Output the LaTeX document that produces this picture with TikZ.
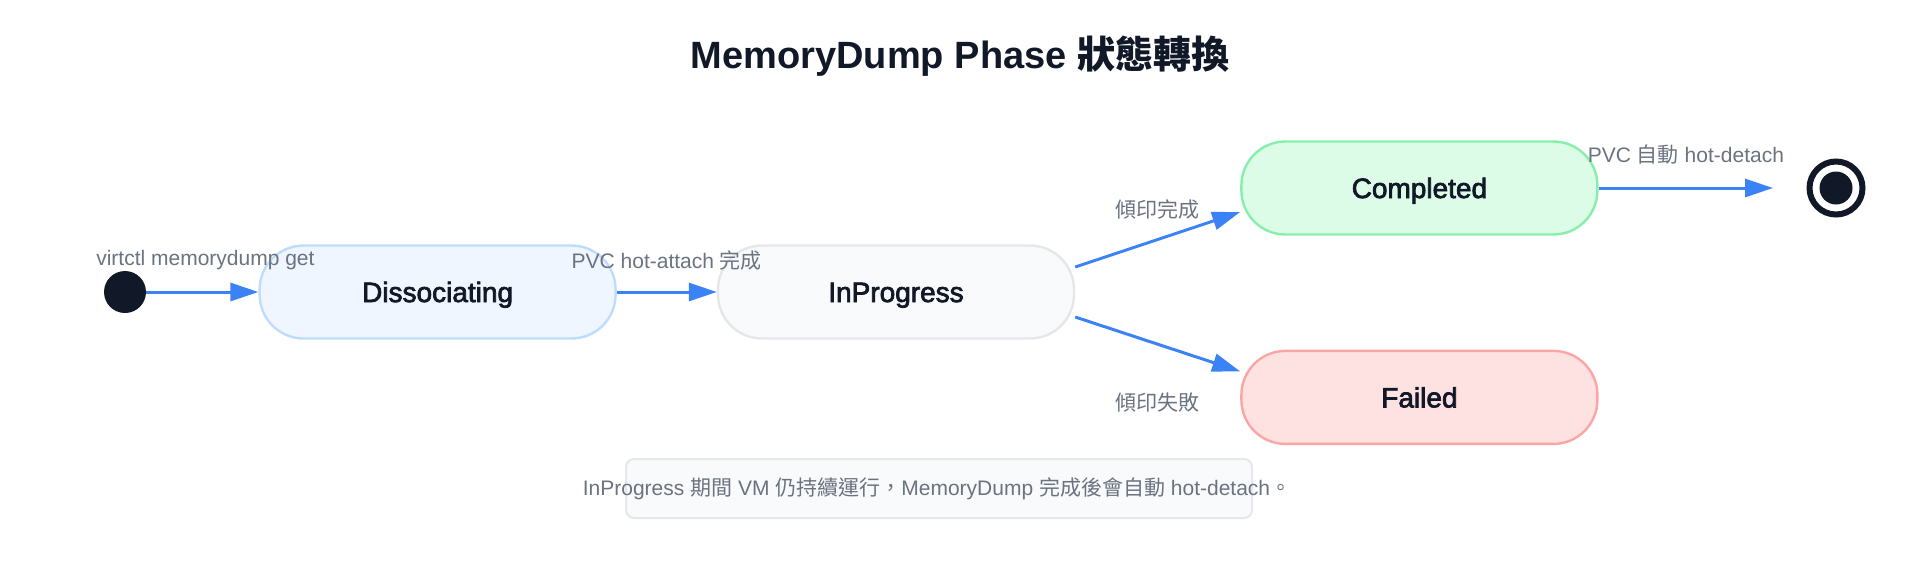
\documentclass[tikz,border=0pt]{standalone}
\usepackage{fontspec}
\setmainfont{Liberation Sans}
\newfontfamily\cjk{Noto Sans CJK TC}
\newfontfamily\semib[FakeBold=2.5]{Liberation Sans}
\usepackage{tikz}
\usetikzlibrary{arrows.meta,positioning,calc}

\definecolor{navy}{HTML}{111827}
\definecolor{labelgray}{HTML}{6B7280}
\definecolor{flowblue}{HTML}{3B82F6}
\definecolor{dissocfill}{HTML}{EFF6FF}
\definecolor{dissocline}{HTML}{BFDBFE}
\definecolor{progfill}{HTML}{F9FAFB}
\definecolor{progline}{HTML}{E5E7EB}
\definecolor{donefill}{HTML}{DCFCE7}
\definecolor{doneline}{HTML}{86EFAC}
\definecolor{failfill}{HTML}{FEE2E2}
\definecolor{failline}{HTML}{FCA5A5}

\begin{document}
\begin{tikzpicture}[
    x=1pt, y=1pt,
    phase/.style={rectangle, rounded corners=22pt, line width=1.2pt, minimum width=178pt, minimum height=46.5pt, text height=11pt, text depth=1pt, text=navy, font=\fontsize{14}{16}\selectfont\semib},
    startdot/.style={circle, fill=navy, minimum size=21pt, inner sep=0pt},
    endring/.style={circle, draw=navy, line width=3pt, minimum size=26.5pt, inner sep=0pt},
    enddot/.style={circle, fill=navy, minimum size=16.5pt, inner sep=0pt},
    lbl/.style={text=labelgray, font=\fontsize{10.5}{12.6}\selectfont, inner sep=1pt},
    flow/.style={-{Triangle[length=14pt, width=9pt]}, line width=1.5pt, draw=flowblue}
]
\useasboundingbox (0,0) rectangle (960,-292.5);

% Title
\node[anchor=base, text=navy, font=\fontsize{19}{22}\selectfont\bfseries] (title) at (480,-34) {MemoryDump Phase {\cjk 狀態轉換}};

% Start
\node[startdot] (init) at (62.5,-146) {};

% Phases
\node[phase, fill=dissocfill, draw=dissocline, right=56pt of init] (dissoc) {Dissociating};
\node[phase, fill=progfill, draw=progline, right=50pt of dissoc] (prog) {InProgress};
\node[phase, fill=donefill, draw=doneline, right=82.5pt of prog, yshift=52pt] (done) {Completed};
\node[phase, fill=failfill, draw=failline, below=57pt of done] (fail) {Failed};

% End
\node[endring] (final) at (918,-94) {};
\node[enddot] (finaldot) at (final) {};

% Arrows
\draw[flow] (init) -- node[lbl, yshift=16pt, xshift=1.5pt] {virtctl memorydump get} (dissoc);
\draw[flow] (dissoc) -- node[lbl, yshift=16pt] {PVC hot-attach {\cjk 完成}} (prog);
\draw[flow] ([yshift=12.5pt]prog.east) -- node[lbl, yshift=15pt] {\cjk 傾印完成} ([yshift=-12pt]done.west);
\draw[flow] ([yshift=-12.5pt]prog.east) -- node[lbl, yshift=-29pt] {\cjk 傾印失敗} ([yshift=13pt]fail.west);
\draw[flow, shorten >=16.75pt] (done) -- node[lbl, pos=0.42, yshift=16.5pt] {PVC {\cjk 自動} hot-detach} (final);

% Note
\node[rectangle, rounded corners=4pt, fill=progfill, draw=progline, line width=1pt, minimum width=313pt, minimum height=29.5pt] (notebox) at (469.5,-244.25) {};
\node[lbl, xshift=-1pt] (notetext) at (notebox) {InProgress {\cjk 期間} VM {\cjk 仍持續運行，}MemoryDump {\cjk 完成後會自動} hot-detach{\cjk 。}};

\end{tikzpicture}
\end{document}
